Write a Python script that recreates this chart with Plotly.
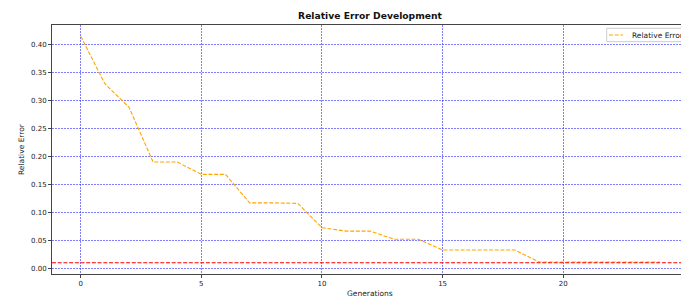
import plotly.graph_objects as go

generations = list(range(25))
relative_error = [0.415, 0.330, 0.288, 0.190, 0.190, 0.168, 0.168, 0.117, 0.117, 0.116,
                  0.0725, 0.0665, 0.0665, 0.0518, 0.0518, 0.0327, 0.0327, 0.0327, 0.0327, 0.0112,
                  0.0112, 0.0112, 0.0112, 0.0112, 0.0112]
threshold = 0.01
x_ticks = [0, 5, 10, 15, 20, 25]
y_ticks = [0.00, 0.05, 0.10, 0.15, 0.20, 0.25, 0.30, 0.35, 0.40]

W, H = 681, 298
L, T, R, B = 52, 25, 0, 24
pw, ph = W - L - R, H - T - B

def px_x(p):
    return (p - L) / pw

def px_y(p):
    return 1 - (p - T) / ph

fig = go.Figure()
fig.add_trace(go.Scatter(
    x=generations, y=relative_error, mode="lines", name="Relative Error",
    line=dict(color="#FFA500", width=1.1, dash="4px,1.7px"), showlegend=False,
))
fig.add_hline(y=threshold, line=dict(color="#FF0000", width=1.1, dash="4px,1.7px"), layer="above")

font = "DejaVu Sans, sans-serif"
grid = "rgba(40,40,255,0.6)"
fig.update_layout(
    width=W, height=H,
    margin=dict(l=L, r=R, t=T, b=B),
    paper_bgcolor="white", plot_bgcolor="white",
    font=dict(family=font, size=7, color="#222"),
    title=dict(text="<b>Relative Error Development</b>", x=370 / W, xanchor="center",
               xref="container", yref="container", y=1 - 16 / H, yanchor="middle",
               font=dict(family=font, size=9.2, color="#111")),
    xaxis=dict(range=[-1.19, 24.88], tickvals=x_ticks, ticktext=[str(v) for v in x_ticks],
               showgrid=True, gridcolor=grid, gridwidth=0.8, griddash="2px,1px",
               zeroline=False, showline=True, linecolor="#444", linewidth=1, mirror=True,
               ticks="outside", ticklen=3, tickcolor="#444", tickfont=dict(size=7, color="#222")),
    yaxis=dict(range=[-0.0102, 0.435], tickvals=y_ticks, tickformat=".2f",
               showgrid=True, gridcolor=grid, gridwidth=0.8, griddash="2px,1px",
               zeroline=False, showline=True, linecolor="#444", linewidth=1,
               ticks="outside", ticklen=3, tickcolor="#444", tickfont=dict(size=7, color="#222")),
)

# axis labels
fig.add_annotation(text="Generations", x=px_x(370), y=px_y(293), xref="paper", yref="paper",
                   showarrow=False, xanchor="center", yanchor="middle",
                   font=dict(family=font, size=7.5, color="#222"))
fig.add_annotation(text="Relative Error", x=px_x(21), y=px_y(149), xref="paper", yref="paper",
                   showarrow=False, xanchor="center", yanchor="middle", textangle=-90,
                   font=dict(family=font, size=7.5, color="#222"))

# legend box (clipped at the right edge as in the reference)
fig.add_shape(type="rect", xref="paper", yref="paper",
              x0=px_x(606.7), x1=px_x(720), y0=px_y(41.7), y1=px_y(28.3),
              line=dict(color="#cccccc", width=1), fillcolor="rgba(255,255,255,0.9)", layer="above")
fig.add_shape(type="line", xref="paper", yref="paper",
              x0=px_x(609), x1=px_x(623), y0=px_y(35), y1=px_y(35),
              line=dict(color="#FFA500", width=1.1, dash="4px,1.7px"), layer="above")
fig.add_annotation(text="Relative Error", x=px_x(630), y=px_y(35), xref="paper", yref="paper",
                   showarrow=False, xanchor="left", yanchor="middle",
                   font=dict(family=font, size=7.5, color="#222"))

fig.write_html(
    "out.html",
    config={"displayModeBar": False},
    post_script="document.body.style.margin='0';document.body.style.overflow='hidden';"
                "document.documentElement.style.overflow='hidden';",
)
